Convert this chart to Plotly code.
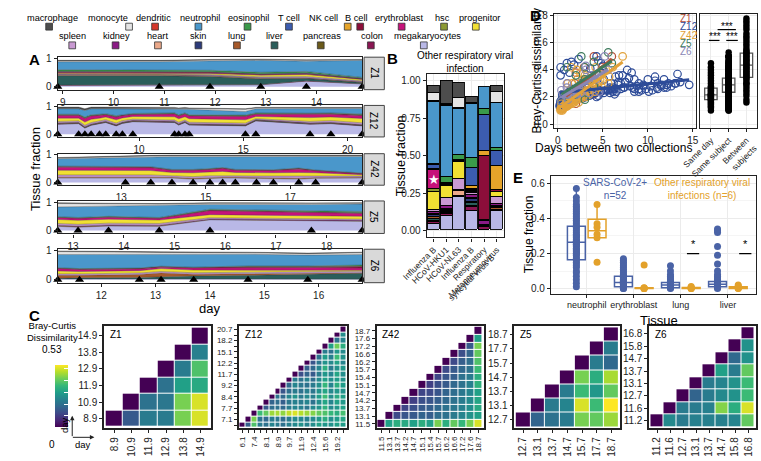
import numpy as np
import plotly.graph_objects as go

W, H = 761, 461
FONT = "Liberation Sans, Arial, sans-serif"

# =========================
# DATA
# =========================
cell_types = ["macrophage", "monocyte", "dendritic", "neutrophil", "eosinophil", "T cell",
              "NK cell", "B cell", "erythroblast", "hsc", "progenitor", "spleen", "kidney",
              "heart", "skin", "lung", "liver", "pancreas", "colon", "megakaryocytes"]
cell_colors = {
    "macrophage": "#4d4d4d", "monocyte": "#e4e4e4", "dendritic": "#d5372b",
    "neutrophil": "#4a97cb", "eosinophil": "#3a9a4a", "T cell": "#3c5caf",
    "NK cell": "#e6a42a", "B cell": "#8c0e3a", "erythroblast": "#c6127a",
    "hsc": "#8c9a34", "progenitor": "#f1e033", "spleen": "#c99ad2",
    "kidney": "#8b1a85", "heart": "#eba98a", "skin": "#2c3b7a", "lung": "#a6592a",
    "liver": "#2b5e5b", "pancreas": "#6b5a1a", "colon": "#8a1653",
    "megakaryocytes": "#b9b8e6",
}

subjects = ["Z1", "Z12", "Z42", "Z5", "Z6"]
subject_colors = {"Z1": "#b5523a", "Z12": "#2d4b98", "Z42": "#e2a23a", "Z5": "#3d7a5c", "Z6": "#8a87b5"}

# sample collection days
z1_days = [8.9, 10.9, 11.9, 12.9, 13.8, 14.9]
z12_days = [6.1, 7.1, 7.4, 7.7, 8.1, 8.4, 8.9, 9.2, 9.7, 11.7, 11.9, 12.2, 12.4, 15.1, 15.6, 18.2, 19.2, 20.7]
z42_days = [11.5, 13.1, 13.7, 14.2, 14.7, 15.1, 15.4, 15.7, 16.2, 16.6, 17.2, 17.6, 18.7]
z5_days = [12.7, 13.1, 13.7, 14.7, 15.7, 17.7, 18.7]
z6_days = [11.2, 11.6, 12.7, 13.1, 13.7, 14.7, 15.8, 16.8]

# tissue fractions per sample (panel A)
z1_frac = {
    "macrophage": [0.02, 0.02, 0.02, 0.02, 0.02, 0.01],
    "monocyte": [0.03, 0.03, 0.03, 0.02, 0.03, 0.02],
    "neutrophil": [0.28, 0.28, 0.33, 0.42, 0.36, 0.60],
    "eosinophil": [0.05, 0.05, 0.05, 0.05, 0.05, 0.03],
    "T cell": [0.01, 0.01, 0.01, 0.01, 0.01, 0.01],
    "B cell": [0.04, 0.04, 0.03, 0.02, 0.03, 0.02],
    "erythroblast": [0.02, 0.02, 0.02, 0.02, 0.02, 0.01],
    "progenitor": [0.03, 0.03, 0.04, 0.06, 0.07, 0.05],
    "spleen": [0.02, 0.02, 0.03, 0.03, 0.04, 0.03],
    "kidney": [0.01, 0.01, 0.01, 0.01, 0.01, 0.01],
    "heart": [0.02, 0.02, 0.02, 0.02, 0.01, 0.01],
    "lung": [0.01, 0.01, 0.01, 0.01, 0.01, 0.01],
    "liver": [0.33, 0.33, 0.30, 0.20, 0.08, 0.04],
    "colon": [0.01, 0.01, 0.01, 0.01, 0.01, 0.01],
    "megakaryocytes": [0.05, 0.05, 0.05, 0.07, 0.20, 0.10],
}
z12_frac = {
    "macrophage": [0.05, 0.05, 0.05, 0.05, 0.05, 0.05, 0.05, 0.05, 0.05, 0.03, 0.03, 0.03, 0.02, 0.02, 0.02, 0.02, 0.02, 0.02],
    "monocyte": [0.01, 0.01, 0.01, 0.01, 0.01, 0.01, 0.01, 0.01, 0.01, 0.02, 0.02, 0.02, 0.03, 0.08, 0.03, 0.02, 0.02, 0.02],
    "neutrophil": [0.20, 0.20, 0.24, 0.22, 0.20, 0.18, 0.24, 0.20, 0.17, 0.15, 0.20, 0.15, 0.20, 0.13, 0.15, 0.17, 0.17, 0.20],
    "eosinophil": [0.02, 0.02, 0.03, 0.02, 0.02, 0.02, 0.03, 0.02, 0.02, 0.02, 0.02, 0.02, 0.02, 0.02, 0.03, 0.02, 0.02, 0.03],
    "B cell": [0.02, 0.02, 0.02, 0.02, 0.02, 0.02, 0.02, 0.02, 0.02, 0.02, 0.02, 0.02, 0.02, 0.03, 0.02, 0.02, 0.03, 0.03],
    "erythroblast": [0.10, 0.10, 0.13, 0.12, 0.10, 0.08, 0.10, 0.08, 0.07, 0.10, 0.10, 0.10, 0.10, 0.12, 0.08, 0.12, 0.10, 0.10],
    "progenitor": [0.12, 0.10, 0.12, 0.12, 0.10, 0.10, 0.12, 0.10, 0.10, 0.12, 0.13, 0.12, 0.13, 0.12, 0.08, 0.14, 0.13, 0.16],
    "spleen": [0.05, 0.05, 0.05, 0.05, 0.05, 0.05, 0.05, 0.05, 0.04, 0.04, 0.05, 0.04, 0.05, 0.05, 0.03, 0.05, 0.06, 0.06],
    "kidney": [0.01, 0.01, 0.01, 0.01, 0.01, 0.01, 0.01, 0.01, 0.01, 0.01, 0.01, 0.01, 0.01, 0.01, 0.01, 0.01, 0.01, 0.01],
    "heart": [0.01, 0.01, 0.01, 0.01, 0.01, 0.01, 0.01, 0.01, 0.01, 0.01, 0.01, 0.01, 0.01, 0.01, 0.01, 0.01, 0.01, 0.01],
    "lung": [0.01, 0.01, 0.01, 0.01, 0.01, 0.01, 0.01, 0.01, 0.01, 0.01, 0.01, 0.01, 0.01, 0.01, 0.01, 0.01, 0.01, 0.01],
    "liver": [0.01, 0.01, 0.01, 0.01, 0.01, 0.01, 0.01, 0.01, 0.01, 0.01, 0.01, 0.01, 0.01, 0.01, 0.01, 0.01, 0.01, 0.01],
    "colon": [0.01, 0.01, 0.01, 0.01, 0.01, 0.01, 0.01, 0.01, 0.01, 0.01, 0.01, 0.01, 0.01, 0.01, 0.01, 0.01, 0.01, 0.01],
    "megakaryocytes": [0.36, 0.38, 0.22, 0.32, 0.38, 0.42, 0.30, 0.39, 0.45, 0.42, 0.33, 0.42, 0.33, 0.30, 0.48, 0.36, 0.38, 0.30],
}
z42_frac = {
    "macrophage": [0.02, 0.02, 0.02, 0.02, 0.02, 0.02, 0.02, 0.02, 0.02, 0.02, 0.02, 0.02, 0.02],
    "monocyte": [0.02, 0.04, 0.04, 0.04, 0.04, 0.04, 0.04, 0.04, 0.04, 0.04, 0.04, 0.04, 0.03],
    "neutrophil": [0.27, 0.32, 0.35, 0.46, 0.46, 0.43, 0.39, 0.46, 0.48, 0.47, 0.41, 0.48, 0.60],
    "eosinophil": [0.01, 0.01, 0.01, 0.01, 0.01, 0.01, 0.01, 0.01, 0.01, 0.01, 0.01, 0.01, 0.01],
    "B cell": [0.03, 0.03, 0.03, 0.02, 0.02, 0.02, 0.03, 0.02, 0.02, 0.02, 0.03, 0.02, 0.02],
    "erythroblast": [0.11, 0.11, 0.10, 0.08, 0.09, 0.09, 0.10, 0.08, 0.07, 0.08, 0.12, 0.07, 0.03],
    "progenitor": [0.17, 0.17, 0.16, 0.12, 0.14, 0.14, 0.15, 0.12, 0.12, 0.12, 0.15, 0.12, 0.05],
    "spleen": [0.08, 0.08, 0.07, 0.05, 0.06, 0.06, 0.06, 0.05, 0.05, 0.05, 0.06, 0.05, 0.04],
    "lung": [0.03, 0.03, 0.03, 0.03, 0.03, 0.03, 0.03, 0.03, 0.03, 0.03, 0.03, 0.03, 0.03],
    "megakaryocytes": [0.16, 0.16, 0.17, 0.16, 0.12, 0.15, 0.16, 0.16, 0.15, 0.15, 0.12, 0.15, 0.16],
}
z5_frac = {
    "macrophage": [0.03, 0.03, 0.02, 0.02, 0.02, 0.02, 0.02],
    "monocyte": [0.12, 0.11, 0.09, 0.05, 0.04, 0.03, 0.03],
    "neutrophil": [0.34, 0.38, 0.35, 0.42, 0.17, 0.22, 0.26],
    "eosinophil": [0.02, 0.02, 0.02, 0.02, 0.03, 0.04, 0.04],
    "B cell": [0.01, 0.01, 0.01, 0.01, 0.02, 0.03, 0.03],
    "erythroblast": [0.07, 0.07, 0.07, 0.06, 0.14, 0.11, 0.10],
    "progenitor": [0.14, 0.14, 0.14, 0.12, 0.11, 0.10, 0.10],
    "spleen": [0.06, 0.06, 0.06, 0.06, 0.04, 0.04, 0.04],
    "kidney": [0.02, 0.02, 0.02, 0.02, 0.02, 0.02, 0.02],
    "lung": [0.02, 0.02, 0.02, 0.02, 0.01, 0.01, 0.01],
    "megakaryocytes": [0.15, 0.12, 0.16, 0.15, 0.38, 0.35, 0.33],
}
z6_frac = {
    "macrophage": [0.02, 0.02, 0.02, 0.02, 0.02, 0.02, 0.02, 0.02],
    "monocyte": [0.10, 0.10, 0.08, 0.07, 0.05, 0.05, 0.05, 0.06],
    "neutrophil": [0.45, 0.48, 0.46, 0.40, 0.45, 0.40, 0.37, 0.36],
    "eosinophil": [0.01, 0.01, 0.01, 0.01, 0.01, 0.02, 0.02, 0.04],
    "B cell": [0.02, 0.02, 0.02, 0.02, 0.02, 0.04, 0.03, 0.06],
    "erythroblast": [0.08, 0.07, 0.06, 0.05, 0.07, 0.08, 0.08, 0.08],
    "progenitor": [0.10, 0.08, 0.08, 0.10, 0.09, 0.08, 0.07, 0.03],
    "spleen": [0.05, 0.05, 0.05, 0.05, 0.05, 0.05, 0.05, 0.05],
    "lung": [0.10, 0.08, 0.10, 0.12, 0.06, 0.05, 0.04, 0.02],
    "liver": [0.02, 0.04, 0.05, 0.08, 0.10, 0.12, 0.15, 0.20],
    "megakaryocytes": [0.03, 0.03, 0.03, 0.03, 0.03, 0.03, 0.03, 0.02],
}

# panel B: other respiratory viral infections
b_labels = ["Influenza B", "HCoV-HKU1", "HCoV-NL63", "Influenza B",
            "Respiratory<br>syncytial virus B", "Metapneumovirus"]
b_frac = {
    "macrophage": [0.047, 0.155, 0.10, 0.04, 0, 0.04],
    "monocyte": [0.055, 0.005, 0.065, 0, 0, 0.075],
    "dendritic": [0.005, 0.005, 0.005, 0.005, 0, 0],
    "neutrophil": [0.415, 0.48, 0.31, 0.36, 0.15, 0.295],
    "eosinophil": [0.01, 0.035, 0.035, 0.065, 0.035, 0.02],
    "T cell": [0.025, 0.005, 0, 0.125, 0.245, 0.105],
    "NK cell": [0, 0, 0, 0.02, 0.03, 0.16],
    "B cell": [0.005, 0.005, 0.005, 0.005, 0.43, 0.01],
    "erythroblast": [0.13, 0.005, 0.005, 0.005, 0.005, 0.005],
    "hsc": [0.015, 0.01, 0.005, 0.005, 0, 0],
    "progenitor": [0.12, 0.08, 0.11, 0.01, 0, 0.03],
    "spleen": [0.015, 0.05, 0.075, 0.015, 0.005, 0.045],
    "kidney": [0.015, 0.02, 0.005, 0.02, 0.025, 0.015],
    "heart": [0.005, 0.005, 0.035, 0.005, 0, 0.005],
    "skin": [0.015, 0.01, 0, 0.02, 0.005, 0.01],
    "lung": [0.01, 0.005, 0, 0.005, 0, 0.01],
    "liver": [0.015, 0.01, 0, 0.02, 0.005, 0.005],
    "pancreas": [0.01, 0.005, 0, 0.005, 0, 0],
    "colon": [0.015, 0.01, 0.005, 0.03, 0.02, 0.005],
    "megakaryocytes": [0.04, 0.10, 0.225, 0.13, 0.005, 0.13],
}

# panel C: Bray-Curtis dissimilarity, row i holds values vs later samples
z1_diss = [
    [0.15, 0.22, 0.22, 0.42, 0.50],
    [0.20, 0.21, 0.42, 0.50],
    [0.20, 0.30, 0.32],
    [0.22, 0.38],
    [0.23],
]
z12_diss = [
    [0.16, 0.38, 0.22, 0.20, 0.24, 0.22, 0.20, 0.23, 0.25, 0.27, 0.24, 0.26, 0.30, 0.28, 0.27, 0.30, 0.29],
    [0.42, 0.20, 0.18, 0.22, 0.21, 0.19, 0.22, 0.25, 0.24, 0.23, 0.25, 0.28, 0.33, 0.26, 0.29, 0.31],
    [0.36, 0.40, 0.45, 0.46, 0.44, 0.48, 0.50, 0.47, 0.45, 0.43, 0.40, 0.38, 0.35, 0.33, 0.37],
    [0.15, 0.19, 0.20, 0.18, 0.22, 0.24, 0.23, 0.21, 0.25, 0.27, 0.34, 0.25, 0.28, 0.30],
    [0.17, 0.19, 0.16, 0.21, 0.23, 0.22, 0.24, 0.20, 0.26, 0.31, 0.24, 0.30, 0.28],
    [0.20, 0.18, 0.24, 0.27, 0.22, 0.25, 0.23, 0.29, 0.36, 0.26, 0.32, 0.30],
    [0.14, 0.19, 0.22, 0.20, 0.23, 0.21, 0.27, 0.31, 0.25, 0.28, 0.27],
    [0.18, 0.24, 0.21, 0.20, 0.22, 0.26, 0.35, 0.24, 0.33, 0.29],
    [0.22, 0.20, 0.23, 0.19, 0.25, 0.30, 0.26, 0.29, 0.27],
    [0.13, 0.17, 0.15, 0.22, 0.28, 0.24, 0.31, 0.26],
    [0.16, 0.18, 0.24, 0.33, 0.22, 0.27, 0.28],
    [0.14, 0.21, 0.27, 0.25, 0.30, 0.24],
    [0.20, 0.29, 0.23, 0.36, 0.27],
    [0.22, 0.20, 0.28, 0.25],
    [0.30, 0.41, 0.33],
    [0.20, 0.24],
    [0.26],
]
z42_diss = [
    [0.30, 0.33, 0.32, 0.30, 0.33, 0.30, 0.42, 0.33, 0.40, 0.35, 0.42, 0.50],
    [0.12, 0.14, 0.15, 0.17, 0.16, 0.19, 0.20, 0.22, 0.24, 0.27, 0.30],
    [0.11, 0.13, 0.15, 0.16, 0.18, 0.20, 0.21, 0.23, 0.26, 0.32],
    [0.10, 0.13, 0.14, 0.16, 0.18, 0.20, 0.22, 0.25, 0.31],
    [0.11, 0.12, 0.14, 0.17, 0.19, 0.21, 0.24, 0.30],
    [0.10, 0.13, 0.15, 0.18, 0.20, 0.23, 0.34],
    [0.11, 0.14, 0.16, 0.20, 0.22, 0.33],
    [0.12, 0.15, 0.18, 0.20, 0.36],
    [0.12, 0.16, 0.19, 0.38],
    [0.13, 0.17, 0.40],
    [0.15, 0.42],
    [0.30],
]
z5_diss = [
    [0.17, 0.20, 0.22, 0.42, 0.40, 0.45],
    [0.22, 0.24, 0.50, 0.36, 0.53],
    [0.22, 0.36, 0.28, 0.40],
    [0.42, 0.33, 0.46],
    [0.22, 0.18],
    [0.22],
]
z6_diss = [
    [0.25, 0.22, 0.23, 0.23, 0.23, 0.24, 0.40],
    [0.22, 0.22, 0.23, 0.43, 0.33, 0.50],
    [0.17, 0.22, 0.25, 0.27, 0.36],
    [0.22, 0.24, 0.27, 0.36],
    [0.30, 0.22, 0.40],
    [0.18, 0.27],
    [0.27],
]

# panel D: comparison groups
d_groups = ["Same day", "Same subject", "Between<br>subjects"]
same_day_diss = [0.10, 0.12, 0.13, 0.14, 0.15, 0.16, 0.17, 0.18, 0.18, 0.19, 0.20, 0.20, 0.21, 0.21,
                 0.22, 0.22, 0.23, 0.24, 0.25, 0.26, 0.27, 0.28, 0.30, 0.32, 0.34, 0.36, 0.38, 0.40,
                 0.42, 0.45]
between_diss = [0.16, 0.18, 0.21, 0.23, 0.25, 0.27, 0.29, 0.30, 0.31, 0.33, 0.34, 0.35, 0.36, 0.37,
                0.38, 0.39, 0.40, 0.41, 0.42, 0.43, 0.44, 0.45, 0.46, 0.47, 0.48, 0.49, 0.50, 0.51,
                0.52, 0.53, 0.54, 0.55, 0.57, 0.59, 0.61, 0.63, 0.65, 0.67, 0.70, 0.72, 0.74, 0.76,
                0.78]
d_q1 = [0.18, 0.235, 0.345]
d_median = [0.215, 0.29, 0.435]
d_q3 = [0.265, 0.34, 0.525]
d_low = [0.10, 0.08, 0.16]
d_high = [0.38, 0.50, 0.78]

# panel E: tissue fractions, SARS-CoV-2+ vs other
e_tissues = ["neutrophil", "erythroblast", "lung", "liver"]
covid_vals = {
    "neutrophil": [0.01, 0.03, 0.05, 0.07, 0.09, 0.10, 0.12, 0.13, 0.14, 0.15, 0.16, 0.17, 0.18,
                   0.19, 0.20, 0.20, 0.21, 0.22, 0.22, 0.23, 0.24, 0.25, 0.25, 0.26, 0.26, 0.27,
                   0.27, 0.28, 0.29, 0.30, 0.30, 0.31, 0.32, 0.33, 0.34, 0.35, 0.36, 0.37, 0.38,
                   0.39, 0.40, 0.41, 0.42, 0.43, 0.44, 0.45, 0.46, 0.47, 0.48, 0.50, 0.52, 0.57],
    "erythroblast": [0.0, 0.0, 0.005, 0.01, 0.01, 0.015, 0.02, 0.02, 0.025, 0.03, 0.03, 0.035,
                     0.035, 0.04, 0.04, 0.045, 0.05, 0.05, 0.055, 0.06, 0.065, 0.07, 0.07, 0.08,
                     0.09, 0.10, 0.11, 0.12, 0.13, 0.14, 0.15, 0.16, 0.17],
    "lung": [0.0, 0.003, 0.006, 0.01, 0.012, 0.015, 0.018, 0.02, 0.022, 0.025, 0.028, 0.03,
             0.035, 0.04, 0.045, 0.05, 0.06, 0.07, 0.08, 0.10, 0.13],
    "liver": [0.0, 0.005, 0.01, 0.015, 0.02, 0.025, 0.03, 0.035, 0.04, 0.045, 0.05, 0.06, 0.07,
              0.08, 0.10, 0.14, 0.19, 0.24, 0.32, 0.33, 0.34],
}
other_vals = {
    "neutrophil": [0.15, 0.29, 0.31, 0.35, 0.37, 0.48],
    "erythroblast": [0.0, 0.0, 0.0, 0.003, 0.005, 0.135],
    "lung": [0.0, 0.0, 0.002, 0.004, 0.008, 0.012],
    "liver": [0.0, 0.002, 0.004, 0.008, 0.015, 0.02],
}
covid_box = dict(q1=[0.165, 0.01, 0.005, 0.01], median=[0.265, 0.035, 0.02, 0.025],
                 q3=[0.355, 0.07, 0.035, 0.04], low=[0.01, 0.0, 0.0, 0.0], high=[0.57, 0.16, 0.075, 0.08])
other_box = dict(q1=[0.29, 0.0, 0.0, 0.0], median=[0.33, 0.0, 0.002, 0.004],
                 q3=[0.395, 0.005, 0.006, 0.01], low=[0.29, 0.0, 0.0, 0.0], high=[0.48, 0.01, 0.012, 0.02])

a_days = {"Z1": z1_days, "Z12": z12_days, "Z42": z42_days, "Z5": z5_days, "Z6": z6_days}
a_frac = {"Z1": z1_frac, "Z12": z12_frac, "Z42": z42_frac, "Z5": z5_frac, "Z6": z6_frac}
c_diss = {"Z1": z1_diss, "Z12": z12_diss, "Z42": z42_diss, "Z5": z5_diss, "Z6": z6_diss}


# =========================
# HELPERS
# =========================
def fx(p):
    return p / W


def fy(p):
    return 1 - p / H


def note(text, x, y, size=10, color="black", angle=0, xanchor="center", bold=False):
    if bold:
        text = f"<b>{text}</b>"
    return dict(text=text, x=fx(x), y=fy(y), xref="paper", yref="paper", showarrow=False,
                font=dict(size=size, color=color, family=FONT), textangle=angle,
                xanchor=xanchor, yanchor="middle")


def frame_axis(dom, **kw):
    ax = dict(domain=dom, showline=True, mirror=True, linecolor="#222", linewidth=1.2,
              ticks="outside", ticklen=3, tickcolor="#222", tickfont=dict(size=10, color="#222"),
              zeroline=False, showgrid=False)
    ax.update(kw)
    return ax


def full_matrix(rows):
    n = len(rows) + 1
    z = [[None] * n for _ in range(n)]
    for i in range(n):
        z[i][i] = 0.0
        if i < len(rows):
            for k, v in enumerate(rows[i]):
                z[i][i + 1 + k] = v
    return z


def pairs(days, rows):
    xs, ys = [], []
    for i, row in enumerate(rows):
        for k, v in enumerate(row):
            xs.append(days[i + 1 + k] - days[i])
            ys.append(v)
    return xs, ys


fig = go.Figure()
axes = {}
shapes = []
notes = []

# =========================
# PANEL A: stacked tissue fractions
# =========================
a_rows = [("Z1", 54, 87, 1, 0), ("Z12", 103, 135, 5, 0), ("Z42", 152, 184, 2, 1),
          ("Z5", 200, 233, 1, 0), ("Z6", 249, 283, 1, 0)]
for k, (subj, top, bot, dt, t0) in enumerate(a_rows):
    n = k + 1
    days = a_days[subj]
    frac = a_frac[subj]
    for ct in reversed(cell_types):
        if ct not in frac:
            continue
        fig.add_trace(go.Scatter(
            x=days, y=frac[ct], mode="lines", stackgroup=f"a{n}",
            line=dict(width=0.5, color="rgba(50,50,50,0.7)"), fillcolor=cell_colors[ct],
            xaxis=f"x{n}", yaxis=f"y{n}", hoverinfo="skip"))
    fig.add_trace(go.Scatter(
        x=days, y=[0] * len(days), mode="markers", cliponaxis=False,
        marker=dict(symbol="triangle-up", size=8, color="black"),
        xaxis=f"x{n}", yaxis=f"y{n}", hoverinfo="skip"))
    axes[f"xaxis{n}"] = frame_axis([fx(33), fx(349)], anchor=f"y{n}",
                                   range=[days[0], days[-1]], dtick=dt, tick0=t0)
    axes[f"yaxis{n}"] = frame_axis([fy(bot), fy(top)], anchor=f"x{n}",
                                   range=[-0.1, 1.04], tickvals=[0, 1], ticktext=["0", "1"])
    shapes.append(dict(type="rect", xref="paper", yref="paper", x0=fx(351), x1=fx(372),
                       y0=fy(bot), y1=fy(top), fillcolor="#d9d9d9", line=dict(color="#444", width=1)))
    notes.append(note(subj, 361.5, (top + bot) / 2, size=10, angle=90))

notes.append(note("Tissue fraction", 10, 168, size=13, angle=-90))
notes.append(note("day", 191, 309, size=13))

# =========================
# PANEL B: stacked bars
# =========================
b_pos = list(range(1, len(b_labels) + 1))
for ct in reversed(cell_types):
    vals = [v if v > 0 else None for v in b_frac[ct]]
    fig.add_trace(go.Bar(
        x=b_pos, y=vals, width=0.94, marker=dict(color=cell_colors[ct], line=dict(color="black", width=0.9)),
        xaxis="x6", yaxis="y6", hoverinfo="skip"))
axes["xaxis6"] = frame_axis([fx(416), fx(496)], anchor="y6", range=[0.45, 6.55],
                            tickvals=b_pos, ticktext=b_labels, tickangle=-45,
                            tickfont=dict(size=8.5, color="#222"),
                            showgrid=True, gridcolor="#ebebeb")
axes["yaxis6"] = frame_axis([fy(237), fy(71)], anchor="x6", range=[-0.047, 1.047],
                            tick0=0, dtick=0.25, tickformat=".2f", showgrid=True, gridcolor="#ebebeb",
                            minor=dict(dtick=0.125, showgrid=True, gridcolor="#f5f5f5"))
notes.append(dict(text="★", x=1, y=0.34, xref="x6", yref="y6", showarrow=False,
                  font=dict(size=13, color="white")))
notes.append(note("Other respiratory viral<br>infection", 456, 59, size=10))
notes.append(note("Tissue fraction", 389, 154, size=12.5, angle=-90))

# =========================
# PANEL C: dissimilarity heatmaps
# =========================
c_boxes = [("Z1", 81, 192), ("Z12", 221, 333), ("Z42", 364, 475), ("Z5", 507, 617), ("Z6", 647, 758)]
for k, (subj, left, right) in enumerate(c_boxes):
    n = 10 + k
    days = a_days[subj]
    m = len(days)
    idx = list(range(m))
    fig.add_trace(go.Heatmap(
        z=full_matrix(c_diss[subj]), x=idx, y=idx, colorscale="Viridis", zmin=0, zmax=0.53,
        xgap=1, ygap=1, showscale=(k == 0), hoverinfo="skip",
        colorbar=dict(x=fx(20), xanchor="left", y=fy(398.5), yanchor="middle", len=83 / H,
                      thickness=13, outlinewidth=0, showticklabels=False,
                      tickvals=[0.1, 0.2, 0.3, 0.4, 0.5], ticks="inside", ticklen=4, tickcolor="white"),
        xaxis=f"x{n}", yaxis=f"y{n}"))
    if subj == "Z12":
        xt = [f"{d}" if i % 2 == 0 else "" for i, d in enumerate(days)]
        yt = [f"{d}" if i % 2 == 1 else "" for i, d in enumerate(days)]
    else:
        xt = [f"{d}" for d in days]
        yt = [f"{d}" for d in days]
    fs = 8 if m > 10 else 10
    axes[f"xaxis{n}"] = frame_axis([fx(left), fx(right)], anchor=f"y{n}", range=[-0.6, m - 0.4],
                                   tickvals=idx, ticktext=xt, tickangle=-90,
                                   tickfont=dict(size=fs, color="#222"), linewidth=1.6)
    axes[f"yaxis{n}"] = frame_axis([fy(431), fy(327)], anchor=f"x{n}", range=[-0.6, m - 0.4],
                                   tickvals=idx, ticktext=yt,
                                   tickfont=dict(size=fs, color="#222"), linewidth=1.6)
    notes.append(note(subj, left + 4, 336, size=10, xanchor="left"))

notes.append(note("Bray-Curtis<br>Dissimilarity", 27, 333, size=9.5))
notes.append(note("0.53", 27, 351, size=10))
notes.append(note("0", 27, 447, size=10))
notes.append(note("day", 40, 428, size=9.5, angle=-90))
notes.append(note("day", 59, 447, size=9.5))
for head, off in [((48, 418), (0, 22)), ((71, 440), (-23, 0))]:
    notes.append(dict(text="", x=fx(head[0]), y=fy(head[1]), ax=off[0], ay=off[1],
                      xref="paper", yref="paper", axref="pixel", ayref="pixel", showarrow=True,
                      arrowhead=2, arrowsize=0.9, arrowwidth=1, arrowcolor="#222"))

# =========================
# PANEL D: dissimilarity vs time
# =========================
same_subject_diss = []
fits = []
for subj in subjects:
    xs, ys = pairs(a_days[subj], c_diss[subj])
    same_subject_diss += ys
    fig.add_trace(go.Scatter(
        x=xs, y=ys, mode="markers", xaxis="x7", yaxis="y7", hoverinfo="skip",
        marker=dict(symbol="circle-open", size=7.5, color=subject_colors[subj], line=dict(width=1.2))))
    fits.append((subj, xs, ys))
for subj, xs, ys in fits:
    slope, icpt = np.polyfit(xs, ys, 1)
    xl = [min(xs), max(xs)]
    fig.add_trace(go.Scatter(
        x=xl, y=[icpt + slope * v for v in xl], mode="lines", xaxis="x7", yaxis="y7",
        line=dict(color=subject_colors[subj], width=3), hoverinfo="skip"))

d_points = [same_day_diss, same_subject_diss, between_diss]
for i, vals in enumerate(d_points):
    fig.add_trace(go.Scatter(
        x=[i] * len(vals), y=vals, mode="markers", xaxis="x8", yaxis="y8", hoverinfo="skip",
        marker=dict(size=6.5, color="black")))
fig.add_trace(go.Box(
    x=[0, 1, 2], q1=d_q1, median=d_median, q3=d_q3, lowerfence=d_low, upperfence=d_high,
    width=0.7, whiskerwidth=0, fillcolor="rgba(255,255,255,0)", line=dict(color="#555", width=1.3),
    boxpoints=False, xaxis="x8", yaxis="y8", hoverinfo="skip"))

axes["xaxis7"] = frame_axis([fx(548), fx(696)], anchor="y7", range=[-0.45, 15.4], dtick=5,
                            showgrid=True, gridcolor="#ebebeb",
                            minor=dict(dtick=2.5, showgrid=True, gridcolor="#f5f5f5"))
axes["yaxis7"] = frame_axis([fy(126), fy(10)], anchor="x7", range=[-0.03, 0.815], dtick=0.2,
                            tickformat=".1f", showgrid=True, gridcolor="#ebebeb",
                            minor=dict(dtick=0.1, showgrid=True, gridcolor="#f5f5f5"))
axes["xaxis8"] = frame_axis([fx(700), fx(759)], anchor="y8", range=[-0.6, 2.6],
                            tickvals=[0, 1, 2], ticktext=d_groups, tickangle=-45,
                            tickfont=dict(size=8.5, color="#222"), showgrid=True, gridcolor="#ebebeb")
axes["yaxis8"] = frame_axis([fy(126), fy(10)], anchor="x8", range=[-0.03, 0.815], dtick=0.2,
                            showticklabels=False, ticks="", showgrid=True, gridcolor="#ebebeb",
                            minor=dict(dtick=0.1, showgrid=True, gridcolor="#f5f5f5"))
for i, subj in enumerate(subjects):
    notes.append(note(subj, 677, 15 + 8.3 * i, size=10, color=subject_colors[subj], xanchor="left"))
notes.append(note("***", 728, 23, size=10))
notes.append(note("***", 715, 33, size=10))
notes.append(note("***", 733, 33, size=10))
for x0, x1, yy in [(718, 737, 26), (709, 720, 37), (727, 739, 37)]:
    shapes.append(dict(type="line", xref="paper", yref="paper", x0=fx(x0), x1=fx(x1),
                       y0=fy(yy), y1=fy(yy), line=dict(color="black", width=1.2)))
notes.append(note("Days between two collections", 610, 146, size=12))
notes.append(note("Bray-Curtis dissimilarity", 531, 68, size=12, angle=-90))

# =========================
# PANEL E: tissue fractions by infection
# =========================
e_off = 0.22
for grp, vals, box, col, sign in [("SARS-CoV-2+", covid_vals, covid_box, "#4a63a6", -1),
                                  ("Other", other_vals, other_box, "#e3a12a", 1)]:
    xs, ys = [], []
    for i, t in enumerate(e_tissues):
        xs += [i + sign * e_off] * len(vals[t])
        ys += vals[t]
    fig.add_trace(go.Scatter(x=xs, y=ys, mode="markers", xaxis="x9", yaxis="y9", hoverinfo="skip",
                             marker=dict(size=7, color=col)))
    fig.add_trace(go.Box(
        x=[i + sign * e_off for i in range(len(e_tissues))], q1=box["q1"], median=box["median"],
        q3=box["q3"], lowerfence=box["low"], upperfence=box["high"], width=0.38, whiskerwidth=0,
        fillcolor="rgba(255,255,255,0)", line=dict(color=col, width=1.5), boxpoints=False,
        xaxis="x9", yaxis="y9", hoverinfo="skip"))

axes["xaxis9"] = frame_axis([fx(545), fx(758)], anchor="y9", range=[-0.76, 3.6],
                            tickvals=[0, 1, 2, 3], ticktext=e_tissues, tickangle=0,
                            tickfont=dict(size=9, color="#222"),
                            showgrid=True, gridcolor="#ebebeb")
axes["yaxis9"] = frame_axis([fy(294), fy(175)], anchor="x9", range=[-0.028, 0.64], dtick=0.2,
                            tickformat=".1f", showgrid=True, gridcolor="#ebebeb",
                            minor=dict(dtick=0.1, showgrid=True, gridcolor="#f5f5f5"))
for x0, x1 in [(2.13, 2.39), (3.24, 3.5)]:
    shapes.append(dict(type="line", xref="x9", yref="y9", x0=x0, x1=x1, y0=0.2, y1=0.2,
                       line=dict(color="black", width=1.2)))
    notes.append(dict(text="*", x=(x0 + x1) / 2, y=0.21, xref="x9", yref="y9", showarrow=False,
                      font=dict(size=11, color="black", family=FONT), yanchor="bottom"))
notes.append(note("SARS-CoV-2+<br>n=52", 611, 188, size=10, color="#4a63a6"))
notes.append(note("Other respiratory viral<br>infections (n=6)", 702, 188, size=10, color="#e3a12a"))
notes.append(note("Tissue", 657, 321, size=13))
notes.append(note("Tissue fraction", 523, 234, size=12, angle=-90))

# =========================
# TOP LEGEND
# =========================
legend_rows = [
    (["macrophage", "monocyte", "dendritic", "neutrophil", "eosinophil", "T cell", "NK cell",
      "B cell", "erythroblast", "hsc", "progenitor"],
     [27, 85, 132, 181, 231, 273, 309, 343, 387, 432, 471],
     [24, 107, 134, 179, 230, 273, 334, 347, 390, 434, 467], 14, 23),
    (["spleen", "kidney", "heart", "skin", "lung", "liver", "pancreas", "colon", "megakaryocytes"],
     [48, 94, 137, 179, 219, 258, 307, 359, 417],
     [48, 93, 137, 179, 219, 258, 306, 358, 413], 33, 42),
]
for names, tx, kx, ty, ky in legend_rows:
    for name, t, k in zip(names, tx, kx):
        notes.append(note(name, t, ty, size=9.2))
        shapes.append(dict(type="rect", xref="paper", yref="paper", x0=fx(k - 3.5), x1=fx(k + 3.5),
                           y0=fy(ky + 3.5), y1=fy(ky - 3.5), fillcolor=cell_colors[name],
                           line=dict(color="#333", width=0.8)))

# panel letters
for letter, x, y in [("A", 9, 56), ("B", 381, 55), ("C", 9, 316), ("D", 529, 12), ("E", 511, 176)]:
    notes.append(note(letter, x, y, size=15, bold=True))

fig.update_layout(
    width=W, height=H, margin=dict(l=0, r=0, t=0, b=0),
    paper_bgcolor="white", plot_bgcolor="white",
    font=dict(family=FONT, color="#222"),
    showlegend=False, barmode="stack", boxmode="overlay", bargap=0,
    shapes=shapes, annotations=notes, **axes)

# page body has a default 8px margin; remove it so the figure fills the window
fig.write_html("out.html", config={"displayModeBar": False},
               post_script="document.body.style.margin='0';document.body.style.overflow='hidden';")
